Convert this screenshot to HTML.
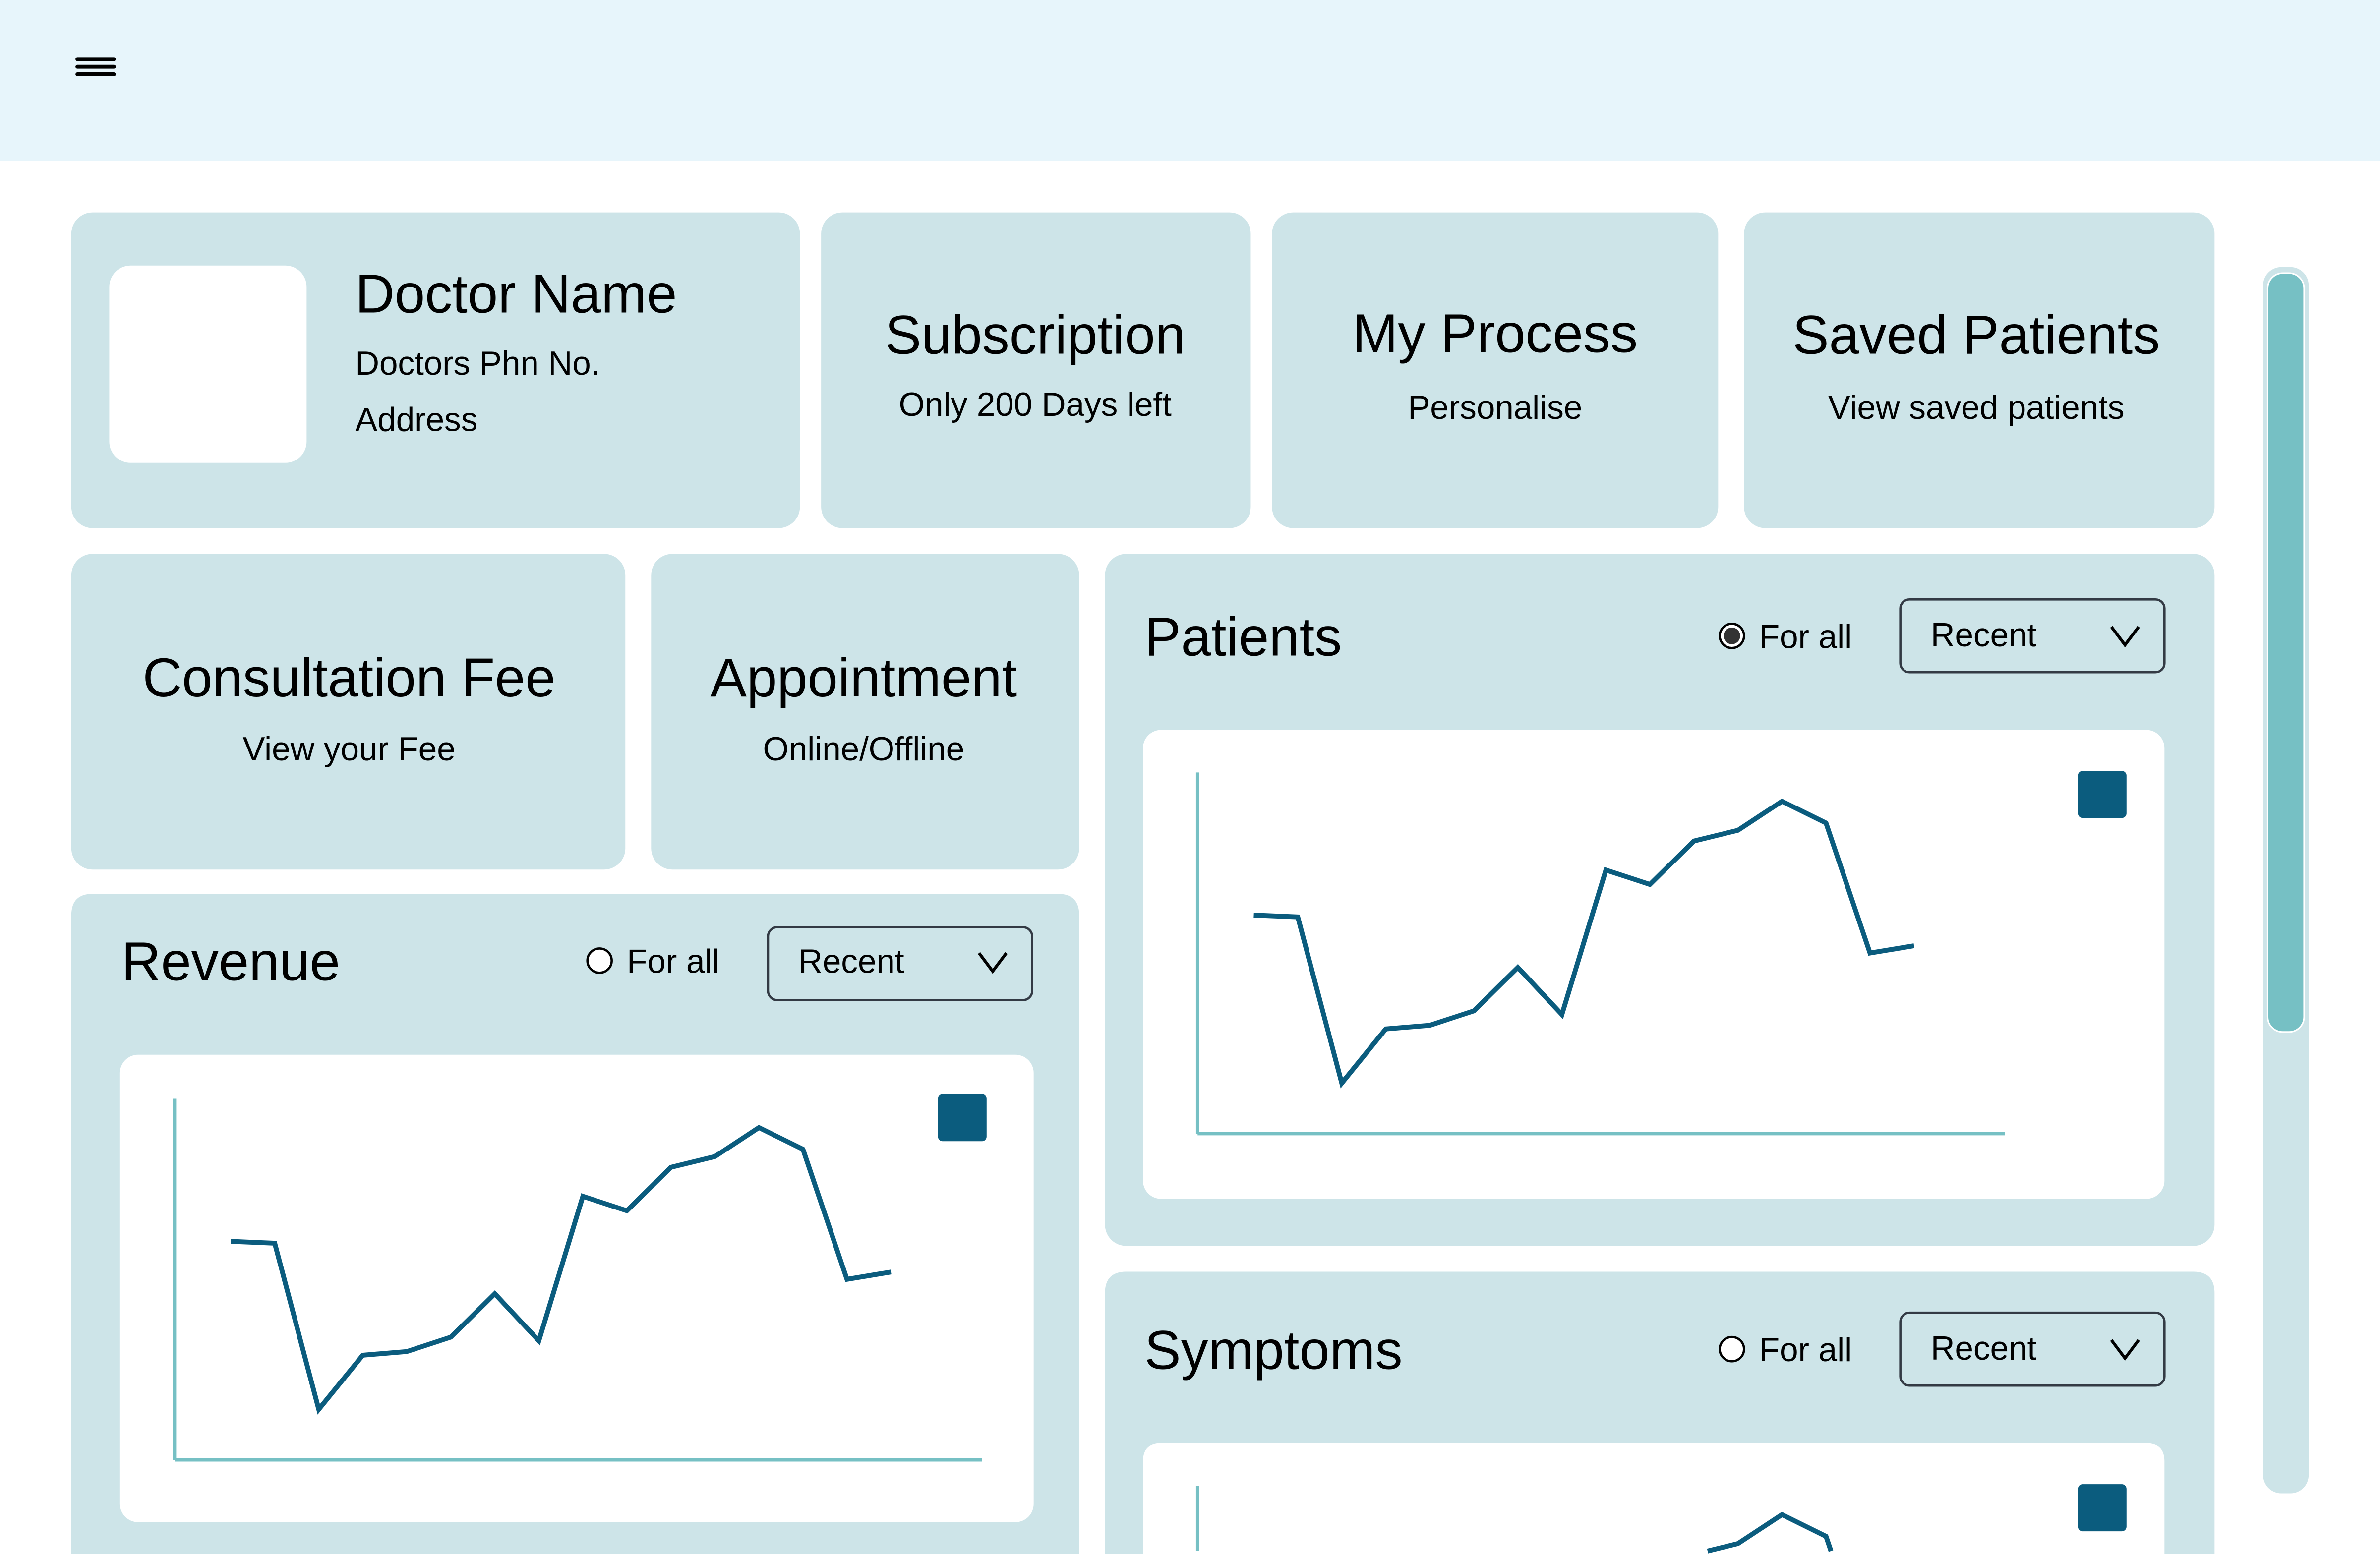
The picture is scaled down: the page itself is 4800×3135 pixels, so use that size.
<!DOCTYPE html>
<html><head><meta charset="utf-8"><style>
html,body{margin:0;padding:0;background:#fff;width:4800px;height:3135px;overflow:hidden;}
svg{display:block;overflow:hidden;}
text{font-family:"Liberation Sans",sans-serif;fill:#000;}
</style></head><body>
<svg id="root" width="4800" height="3135" viewBox="0 0 1568 1024" preserveAspectRatio="none" xmlns="http://www.w3.org/2000/svg">
<rect x="0" y="0" width="1568" height="1024" fill="#ffffff"/>
<g>
<rect x="0" y="0" width="1568" height="106" fill="#e7f5fb"/>
<g stroke="#000" stroke-width="2.6" stroke-linecap="round">
<line x1="51" y1="39" x2="75" y2="39"/><line x1="51" y1="44" x2="75" y2="44"/><line x1="51" y1="49" x2="75" y2="49"/>
</g>
</g>
<g>
<rect x="47" y="140" width="480" height="208" rx="14" fill="#cde4e8"/>
<rect x="72" y="175" width="130" height="130" rx="14" fill="#fff"/>
<text x="234" y="206" font-size="36">Doctor Name</text>
<text x="234" y="247" font-size="22">Doctors Phn No.</text>
<text x="234" y="284" font-size="22">Address</text>
</g>
<g>
<rect x="541" y="140" width="283" height="208" rx="14" fill="#cde4e8"/>
<text x="682" y="233" font-size="36" text-anchor="middle">Subscription</text>
<text x="682" y="274" font-size="22" text-anchor="middle">Only 200 Days left</text>
</g>
<g>
<rect x="838" y="140" width="294" height="208" rx="14" fill="#cde4e8"/>
<text x="985" y="232" font-size="36" text-anchor="middle">My Process</text>
<text x="985" y="276" font-size="22" text-anchor="middle">Personalise</text>
</g>
<g>
<rect x="1149" y="140" width="310" height="208" rx="14" fill="#cde4e8"/>
<text x="1302" y="233" font-size="36" text-anchor="middle">Saved Patients</text>
<text x="1302" y="276" font-size="22" text-anchor="middle">View saved patients</text>
</g>
<g>
<rect x="47" y="365" width="365" height="208" rx="14" fill="#cde4e8"/>
<text x="230" y="459" font-size="36" text-anchor="middle">Consultation Fee</text>
<text x="230" y="501" font-size="22" text-anchor="middle">View your Fee</text>
</g>
<g>
<rect x="429" y="365" width="282" height="208" rx="14" fill="#cde4e8"/>
<text x="569" y="459" font-size="36" text-anchor="middle">Appointment</text>
<text x="569" y="501" font-size="22" text-anchor="middle">Online/Offline</text>
</g>
<g>
<rect x="728" y="365" width="731" height="456" rx="14" fill="#cde4e8"/>
<text x="754" y="432" font-size="36">Patients</text>
<g>
<circle cx="1141" cy="419" r="8" fill="#fff" stroke="#000" stroke-width="1.5"/>
<circle cx="1141" cy="419" r="5.5" fill="#333"/>
<text x="1159" y="427" font-size="22">For all</text>
</g>
<g>
<rect x="1252" y="395" width="174" height="48" rx="6" fill="none" stroke="#333a44" stroke-width="1.5"/>
<text x="1272" y="426" font-size="22">Recent</text>
<polyline points="1391,413 1400,425 1409,413" fill="none" stroke="#000" stroke-width="2"/>
</g>
<rect x="753" y="481" width="673" height="309" rx="12" fill="#fff"/>
<g id="chart-patients"></g>
</g>
<g>
<path d="M47,1024 V603 Q47,589 61,589 H697 Q711,589 711,603 V1024 Z" fill="#cde4e8"/>
<text x="80" y="646" font-size="36">Revenue</text>
<g>
<circle cx="395" cy="633" r="8" fill="#fff" stroke="#000" stroke-width="1.5"/>
<text x="413" y="641" font-size="22">For all</text>
</g>
<g>
<rect x="506" y="611" width="174" height="48" rx="6" fill="none" stroke="#333a44" stroke-width="1.5"/>
<text x="526" y="641" font-size="22">Recent</text>
<polyline points="645,628 654,640 663,628" fill="none" stroke="#000" stroke-width="2"/>
</g>
<rect x="79" y="695" width="602" height="308" rx="12" fill="#fff"/>
<g id="chart-revenue"></g>
</g>
<g>
<path d="M728,1024 V852 Q728,838 742,838 H1445 Q1459,838 1459,852 V1024 Z" fill="#cde4e8"/>
<text x="754" y="902" font-size="36">Symptoms</text>
<g>
<circle cx="1141" cy="889" r="8" fill="#fff" stroke="#000" stroke-width="1.5"/>
<text x="1159" y="897" font-size="22">For all</text>
</g>
<g>
<rect x="1252" y="865" width="174" height="48" rx="6" fill="none" stroke="#333a44" stroke-width="1.5"/>
<text x="1272" y="896" font-size="22">Recent</text>
<polyline points="1391,883 1400,895 1409,883" fill="none" stroke="#000" stroke-width="2"/>
</g>
<path d="M753,1024 V963 Q753,951 765,951 H1414 Q1426,951 1426,963 V1024 Z" fill="#fff"/>
<g id="chart-symptoms"></g>
</g>
<g>
<rect x="1491" y="176" width="30" height="808" rx="12" fill="#cde4e8"/>
<rect x="1494" y="180" width="24" height="500" rx="10" fill="#76c0c4" stroke="#fff" stroke-width="1"/>
</g>
</svg>
<script>
const categories = ["1","2","3","4","5","6","7","8","9","10","11","12","13","14","15","16"];
const patientValues = [60.5,60,14,29,30,34,46,33,73,69,81,84,92,86,50,52];
const revenueValues = [60.5,60,14,29,30,34,46,33,73,69,81,84,92,86,50,52];
const symptomsValues = [60.5,60,14,29,30,34,46,33,73,69,81,84,92,86,50,52];
const NS = "http://www.w3.org/2000/svg";
const FRAME_BOTTOM = 1022;
function clipRuns(pts, ymax){
  const runs = []; let cur = [];
  for (let i = 0; i < pts.length; i++){
    const p = pts[i];
    if (i > 0){
      const q = pts[i-1];
      const qin = q[1] <= ymax, pin = p[1] <= ymax;
      if (qin !== pin){
        const t = (ymax - q[1]) / (p[1] - q[1]);
        const c = [q[0] + t * (p[0] - q[0]), ymax];
        if (qin){ cur.push(c); runs.push(cur); cur = []; }
        else { cur = [c]; }
      }
    }
    if (p[1] <= ymax) cur.push(p);
  }
  if (cur.length > 1) runs.push(cur);
  return runs.filter(r => r.length > 1);
}
function drawChart(id, ax, ay, values, legendX, legendY, nm){
  const g = document.getElementById(id);
  const h = 238, w = 532, yMax = 100;
  const step = 435 / (categories.length - 1);
  const xS = i => ax + 37 + i * step;
  const yS = v => ay - v / yMax * h;
  const yAxis = document.createElementNS(NS,'line');
  
  
  yAxis.setAttribute('x1', ax); yAxis.setAttribute('x2', ax);
  yAxis.setAttribute('y1', ay - h); yAxis.setAttribute('y2', Math.min(ay, FRAME_BOTTOM));
  yAxis.setAttribute('stroke', '#76c0c4'); yAxis.setAttribute('stroke-width', '2.2');
  g.appendChild(yAxis);
  if (ay <= FRAME_BOTTOM){
    const xAxis = document.createElementNS(NS,'line');
    
    
    xAxis.setAttribute('x1', ax); xAxis.setAttribute('x2', ax + w);
    xAxis.setAttribute('y1', ay); xAxis.setAttribute('y2', ay);
    xAxis.setAttribute('stroke', '#76c0c4'); xAxis.setAttribute('stroke-width', '2.2');
    g.appendChild(xAxis);
  }
  const pts = values.map((v,i) => [xS(i), yS(v)]);
  clipRuns(pts, FRAME_BOTTOM).forEach(run => {
    const line = document.createElementNS(NS,'polyline');
    
    
    line.setAttribute('points', run.map(p => p[0].toFixed(1) + ',' + p[1].toFixed(1)).join(' '));
    line.setAttribute('fill', 'none'); line.setAttribute('stroke', '#0b5c7e'); line.setAttribute('stroke-width', '3.2');
    g.appendChild(line);
  });
  const leg = document.createElementNS(NS,'rect');
  
  
  leg.setAttribute('x', legendX); leg.setAttribute('y', legendY);
  leg.setAttribute('width', 32); leg.setAttribute('height', 31); leg.setAttribute('rx', 3);
  leg.setAttribute('fill', '#0b5c7e');
  g.appendChild(leg);
}
drawChart('chart-patients', 789, 747, patientValues, 1369, 508, 'patients');
drawChart('chart-revenue', 115, 962, revenueValues, 618, 721, 'revenue');
drawChart('chart-symptoms', 789, 1217, symptomsValues, 1369, 978, 'symptoms');
</script>
</body></html>
